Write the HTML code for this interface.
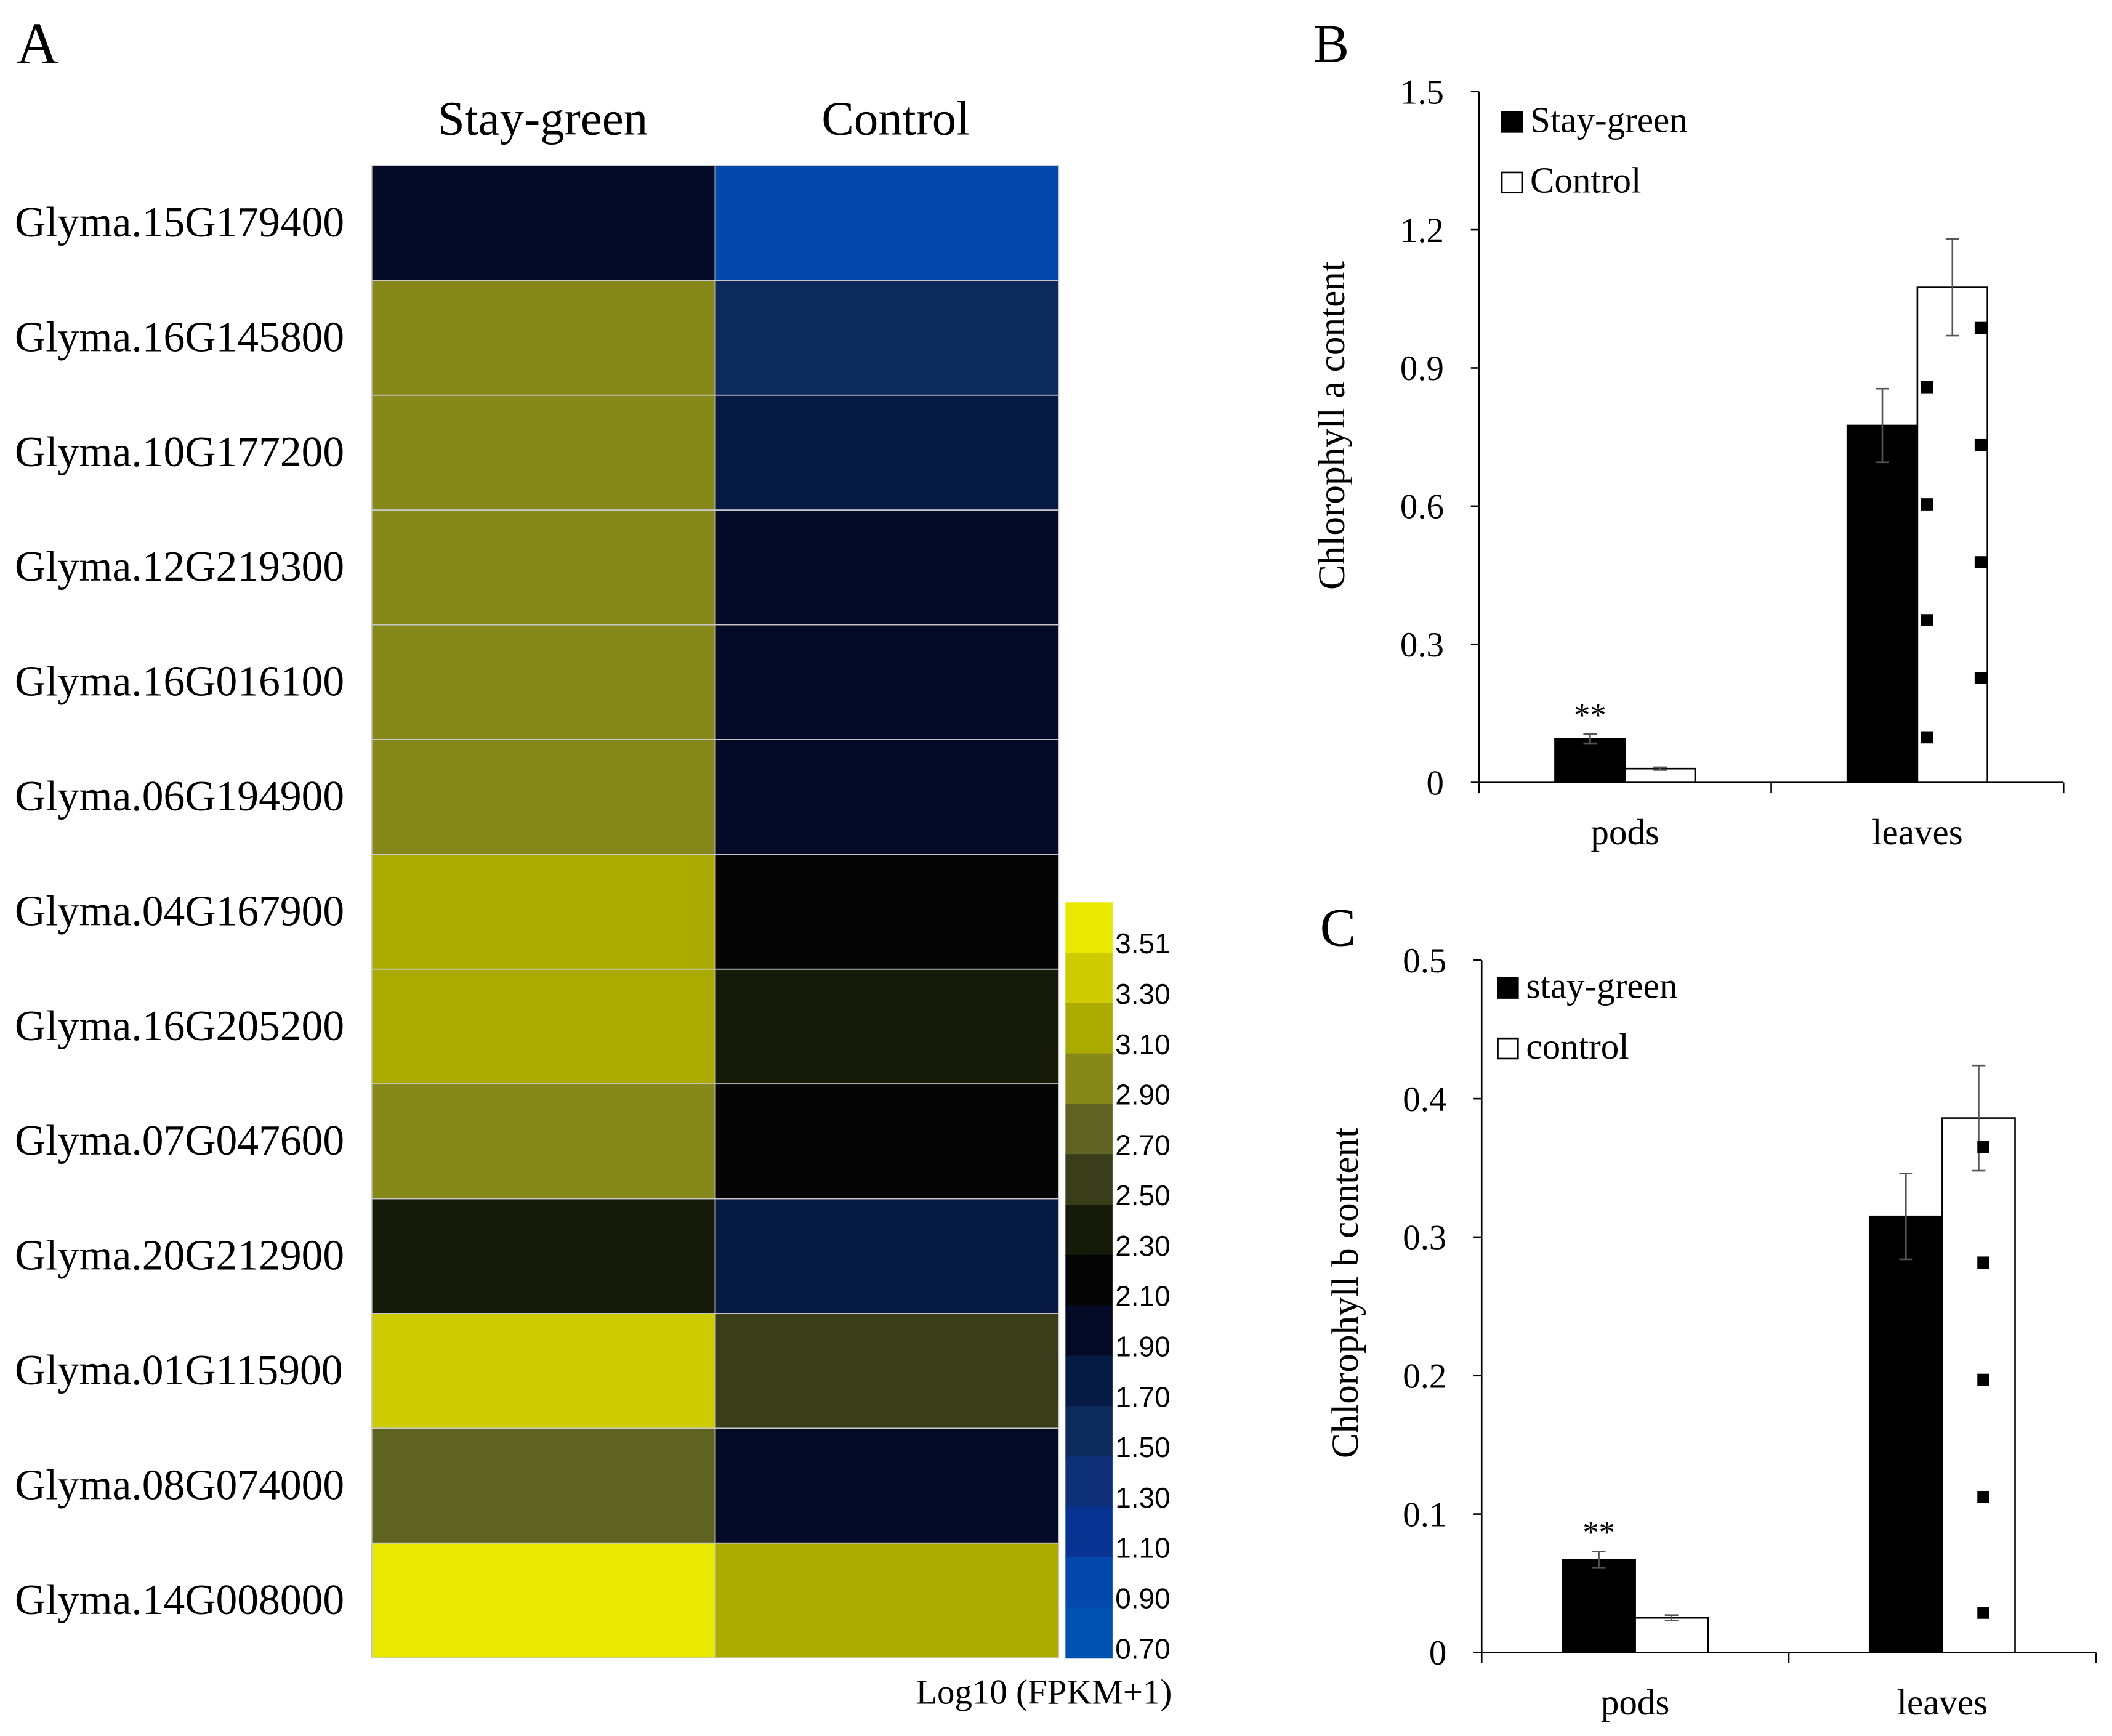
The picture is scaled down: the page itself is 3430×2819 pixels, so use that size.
<!DOCTYPE html>
<html><head><meta charset="utf-8"><style>
html,body{margin:0;padding:0;background:#fff;}
svg{display:block;}
text{font-family:"Liberation Serif",serif;fill:#000;}
.sans{font-family:"Liberation Sans",sans-serif;}
</style></head><body>
<svg id="fig" width="3430" height="2819" viewBox="0 0 1568 1289" preserveAspectRatio="none" xmlns="http://www.w3.org/2000/svg">
<text x="12" y="47" font-size="44">A</text>
<text x="403" y="100" font-size="36" text-anchor="middle">Stay-green</text>
<text x="665" y="100" font-size="36" text-anchor="middle">Control</text>
<g id="heat"></g>
<g id="cbar"></g>
<text x="775" y="1265" font-size="26" text-anchor="middle">Log10 (FPKM+1)</text>
<text x="975" y="46" font-size="40">B</text>
<text x="980" y="702" font-size="40">C</text>
<g id="chartB"></g>
<g id="chartC"></g>
</svg>
<script>
const genes = ["Glyma.15G179400","Glyma.16G145800","Glyma.10G177200","Glyma.12G219300","Glyma.16G016100","Glyma.06G194900","Glyma.04G167900","Glyma.16G205200","Glyma.07G047600","Glyma.20G212900","Glyma.01G115900","Glyma.08G074000","Glyma.14G008000"];
const stayGreenExpr = [1.95,2.95,2.95,2.95,2.95,2.95,3.15,3.15,2.95,2.35,3.35,2.75,3.6];
const controlExpr = [0.95,1.55,1.75,1.95,1.95,1.95,2.15,2.35,2.15,1.75,2.55,1.95,3.15];
const cbarTicks = ["3.51","3.30","3.10","2.90","2.70","2.50","2.30","2.10","1.90","1.70","1.50","1.30","1.10","0.90","0.70"];
const cbarThresh = [3.51,3.30,3.10,2.90,2.70,2.50,2.30,2.10,1.90,1.70,1.50,1.30,1.10,0.90,0.70];
const palette = ["#e8e800","#cccc00","#aaaa00","#86881a","#5f6322","#3a3d1a","#161a08","#050505","#050a26","#071a44","#0c2a5c","#0c2f78","#0a3494","#0448ac","#0052b0"];

const categories = ["pods","leaves"];
const chlASG = [0.095,0.775], chlACtrl = [0.03,1.075], chlASGErr = [0.01,0.08], chlACtrlErr = [0.003,0.105];
const chlATicks = ["0","0.3","0.6","0.9","1.2","1.5"];
const chlBSG = [0.067,0.315], chlBCtrl = [0.025,0.386], chlBSGErr = [0.006,0.031], chlBCtrlErr = [0.002,0.038];
const chlBTicks = ["0","0.1","0.2","0.3","0.4","0.5"];

const NS="http://www.w3.org/2000/svg";
function mk(tag,attrs,parent,txt){const e=document.createElementNS(NS,tag);for(const k in attrs)e.setAttribute(k,attrs[k]);if(txt!==undefined)e.textContent=txt;parent.appendChild(e);return e;}
function colorFor(v){for(let i=0;i<cbarThresh.length;i++){if(v>=cbarThresh[i])return palette[i];}return palette[palette.length-1];}

const heat=document.getElementById('heat');
const hx0=276,hxm=531,hx1=786,hy0=123,hy1=1231,rh=(hy1-hy0)/genes.length;
genes.forEach((g,i)=>{
  const y=hy0+i*rh;
  let r=mk('rect',{x:hx0,y:y,width:hxm-hx0,height:rh,fill:colorFor(stayGreenExpr[i]),stroke:'#c8c8c8','stroke-width':0.8},heat);
  
  
  r=mk('rect',{x:hxm,y:y,width:hx1-hxm,height:rh,fill:colorFor(controlExpr[i]),stroke:'#c8c8c8','stroke-width':0.8},heat);
  
  
  const t=mk('text',{x:11,y:y+rh/2+10,'font-size':31.8},heat,g);
  
  
});
const cb=document.getElementById('cbar');
const cby0=670,cby1=1231,sh=(cby1-cby0)/palette.length;
palette.forEach((c,i)=>{
  const r=mk('rect',{x:791,y:cby0+i*sh,width:35,height:sh+0.5,fill:c},cb);
  
  
  const t=mk('text',{x:828,y:cby0+i*sh+sh*0.8+8,'font-size':21,class:'sans'},cb,cbarTicks[i]);
  
  
});

function barChart(g,o){
  const ys=v=>o.y0-(v/o.max)*(o.y0-o.yTop);
  mk('line',{x1:o.ax,y1:o.y0,x2:o.ax,y2:o.yTop,stroke:'#000','stroke-width':1.2},g);
  mk('line',{x1:o.ax,y1:o.y0,x2:o.axEnd,y2:o.y0,stroke:'#000','stroke-width':1.2},g);
  o.ticks.forEach((lab,i)=>{
    const v=o.max*i/(o.ticks.length-1), y=ys(v);
    mk('line',{x1:o.ax-6,y1:y,x2:o.ax,y2:y,stroke:'#000','stroke-width':1.2},g);
    const t=mk('text',{x:o.ax-26,y:y+9,'font-size':26,'text-anchor':'end'},g,lab);
    
    
  });
  const cw=(o.axEnd-o.ax)/o.cats.length;
  for(let i=0;i<=o.cats.length;i++)mk('line',{x1:o.ax+i*cw,y1:o.y0,x2:o.ax+i*cw,y2:o.y0+8,stroke:'#000','stroke-width':1.2},g);
  o.cats.forEach((c,i)=>{
    const cx=o.ax+cw*(i+0.5);
    const t=mk('text',{x:cx,y:o.y0+46,'font-size':27,'text-anchor':'middle'},g,c);
    
    
    const pairs=[[o.sg[i],o.sgE[i],cx-o.bw,'#000','stay-green'],[o.ct[i],o.ctE[i],cx,'#fff','control']];
    pairs.forEach(p=>{
      const r=mk('rect',{x:p[2],y:ys(p[0]),width:o.bw,height:o.y0-ys(p[0]),fill:p[3],stroke:'#000','stroke-width':1.2},g);
      
      
      const mx=p[2]+o.bw/2,yt=ys(p[0]+p[1]),yb=ys(p[0]-p[1]);
      mk('path',{d:`M${mx},${yt}V${yb}M${mx-5},${yt}H${mx+5}M${mx-5},${yb}H${mx+5}`,stroke:'#555','stroke-width':1.2,fill:'none'},g);
    });
    if(i===0){const s=mk('text',{x:cx-o.bw/2,y:ys(o.sg[i]+o.sgE[i])-6,'font-size':24,'text-anchor':'middle'},g,'**');
      
      }
  });
  o.dots.forEach(d=>mk('rect',{x:d[0]-4,y:d[1]-4,width:9,height:9,fill:'#000'},g));
  o.legend.forEach((l,i)=>{
    const ly=o.ly+i*45;
    mk('rect',{x:o.lx,y:ly-15,width:15,height:15,fill:i?'#fff':'#000',stroke:'#000','stroke-width':1.2},g);
    const t=mk('text',{x:o.lx+21,y:ly,'font-size':27},g,l);
    
    
  });
  const yt=mk('text',{x:0,y:0,'font-size':28,'text-anchor':'middle',transform:`translate(${o.tx},${o.ty}) rotate(-90)`},g,o.title);
  
  
}
barChart(document.getElementById('chartB'),{ax:1098,axEnd:1532,y0:581,yTop:68,max:1.5,ticks:chlATicks,cats:categories,bw:52,
 sg:chlASG,ct:chlACtrl,sgE:chlASGErr,ctE:chlACtrlErr,
 dots:[[1430,287],[1430,374],[1430,460],[1430,547],[1470,243],[1470,330],[1470,417],[1470,503]],
 legend:["Stay-green","Control"],lx:1115,ly:98,title:"Chlorophyll a content",tx:998,ty:316});
barChart(document.getElementById('chartC'),{ax:1100,axEnd:1556,y0:1227,yTop:713,max:0.5,ticks:chlBTicks,cats:categories,bw:54,
 sg:chlBSG,ct:chlBCtrl,sgE:chlBSGErr,ctE:chlBCtrlErr,
 dots:[[1472,851],[1472,937],[1472,1024],[1472,1111],[1472,1197]],
 legend:["stay-green","control"],lx:1112,ly:741,title:"Chlorophyll b content",tx:1008,ty:960});
</script>
</body></html>
